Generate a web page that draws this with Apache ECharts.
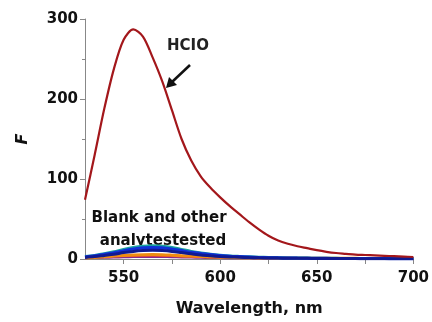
<!DOCTYPE html>
<html>
<head>
<meta charset="utf-8">
<script src="https://cdn.jsdelivr.net/npm/echarts@6/dist/echarts.min.js"></script>
<style>
  html, body { margin: 0; padding: 0; background: #fff; }
  #chart { width: 432px; height: 322px; }
</style>
</head>
<body>
<div id="chart"></div>
<script>
// wavelength grid (nm)
const wavelength = [530, 535, 540, 545, 550, 555, 560, 565, 570, 575, 580, 585, 590, 595, 600,
  605, 610, 615, 620, 625, 630, 635, 640, 645, 650, 655, 660, 665, 670, 675, 680, 685, 690, 695, 700];

// HCIO response
const hcio = [74, 130, 188, 238, 274, 287, 278, 252, 222, 186, 150, 123, 103, 89, 77,
  66, 56, 46, 37, 29, 23, 19, 16, 13.5, 11, 9, 7.5, 6.5, 5.5, 5, 4.5, 4, 3.5, 3, 2.5];

// blank and other analytes
const teal = [3, 4.5, 6.5, 9, 12, 14.5, 16, 16.5, 16, 14.5, 12, 9.5, 7.5, 6, 4.8,
  3.8, 3.2, 2.7, 2.2, 1.9, 1.6, 1.4, 1.2, 1.1, 1, 0.9, 0.8, 0.7, 0.7, 0.6, 0.6, 0.5, 0.5, 0.5, 0.5];
const blue = [2.5, 4, 6, 8, 10.5, 12.5, 14, 14.5, 14, 12.5, 10.5, 8.5, 7, 5.5, 4.5,
  3.5, 3, 2.5, 2, 1.7, 1.5, 1.3, 1.1, 1, 0.9, 0.8, 0.7, 0.6, 0.6, 0.5, 0.5, 0.5, 0.4, 0.4, 0.4];
const navy = [2, 3, 4.5, 6, 8, 9.5, 10.5, 11, 10.5, 9.5, 8, 6.5, 5, 4, 3.2,
  2.6, 2.2, 1.8, 1.5, 1.3, 1.1, 1, 0.9, 0.8, 0.7, 0.6, 0.6, 0.5, 0.5, 0.4, 0.4, 0.4, 0.3, 0.3, 0.3];
const orange = [1.5, 2, 2.8, 3.6, 4.4, 5, 5.4, 5.5, 5.3, 4.8, 4.2, 3.6, 3, 2.6, 2.2,
  1.9, 1.7, 1.5, 1.4, 1.3, 1.2, 1.1, 1, 1, 0.9, 0.9, 0.8, 0.8, 0.8, 0.7, 0.7, 0.7, 0.7, 0.6, 0.6];
const red = [3.5, 3.5, 3.6, 3.7, 3.8, 3.9, 4, 4, 3.9, 3.6, 3.2, 2.8, 2.5, 2.2, 2,
  1.8, 1.6, 1.5, 1.4, 1.3, 1.2, 1.1, 1, 1, 0.9, 0.9, 0.8, 0.8, 0.8, 0.7, 0.7, 0.7, 0.7, 0.6, 0.6];
const purple = [1, 1.2, 1.5, 1.8, 2.1, 2.4, 2.6, 2.6, 2.5, 2.3, 2, 1.8, 1.5, 1.3, 1.1,
  1, 0.9, 0.8, 0.7, 0.6, 0.6, 0.5, 0.5, 0.5, 0.4, 0.4, 0.4, 0.4, 0.3, 0.3, 0.3, 0.3, 0.3, 0.3, 0.3];

const xLabels = [550, 600, 650, 700];
const xTicks = [550, 575, 600, 625, 650, 675, 700];

function pairs(ys) {
  return wavelength.map((w, i) => [w, ys[i]]);
}

function line(name, ys, color, width) {
  return {
    name: name,
    type: 'line',
    data: pairs(ys),
    smooth: 0.3,
    showSymbol: false,
    lineStyle: { color: color, width: width },
    z: 2
  };
}

const font = '"DejaVu Sans", Arial, sans-serif';
const chart = echarts.init(document.getElementById('chart'));

const option = {
  animation: false,
  backgroundColor: '#fff',
  grid: { left: 85, right: 17, top: 19, bottom: 56, containLabel: false },
  xAxis: {
    type: 'value',
    min: 530,
    max: 700,
    name: 'Wavelength, nm',
    nameLocation: 'middle',
    nameGap: 42,
    nameTextStyle: { fontFamily: font, fontWeight: 'bold', fontSize: 16, color: '#111' },
    axisLine: { lineStyle: { color: '#888', width: 1 } },
    axisTick: { customValues: xTicks, length: 5, lineStyle: { color: '#888' } },
    axisLabel: { customValues: xLabels, fontFamily: font, fontWeight: 'bold', fontSize: 15, color: '#111', margin: 12 },
    splitLine: { show: false }
  },
  yAxis: {
    type: 'value',
    min: 0,
    max: 300,
    interval: 100,
    name: 'F',
    nameLocation: 'middle',
    nameRotate: 90,
    nameGap: 54,
    nameTextStyle: { fontFamily: font, fontWeight: 'bold', fontStyle: 'italic', fontSize: 16, color: '#111' },
    axisLine: { show: true, lineStyle: { color: '#888', width: 1 } },
    axisTick: { show: true, length: 5, lineStyle: { color: '#888' } },
    minorTick: { show: true, splitNumber: 2, length: 3, lineStyle: { color: '#888' } },
    axisLabel: { fontFamily: font, fontWeight: 'bold', fontSize: 15, color: '#111', margin: 7 },
    splitLine: { show: false }
  },
  series: [
    line('purple', purple, '#8a2a8a', 2),
    line('red', red, '#e8403a', 2),
    line('orange', orange, '#f08c10', 3),
    line('teal', teal, '#1aa3a0', 3),
    line('blue', blue, '#1030d8', 3),
    line('navy', navy, '#101a90', 3),
    line('HCIO', hcio, '#a3171b', 2.2)
  ],
  graphic: [
    {
      type: 'text', left: 167, top: 39,
      style: { text: 'HCIO', font: 'bold 15px ' + font, fill: '#222' }
    },
    {
      type: 'line',
      shape: { x1: 190, y1: 65, x2: 172, y2: 82 },
      style: { stroke: '#111', lineWidth: 2.5 }
    },
    {
      type: 'polygon',
      shape: { points: [[166, 88], [169, 77], [177, 85]] },
      style: { fill: '#111' }
    },
    {
      type: 'text', x: 159, y: 218,
      style: { text: 'Blank and other', font: 'bold 15px ' + font, fill: '#111', align: 'center', verticalAlign: 'middle' }
    },
    {
      type: 'text', x: 163, y: 241,
      style: { text: 'analytestested', font: 'bold 15px ' + font, fill: '#111', align: 'center', verticalAlign: 'middle' }
    }
  ]
};

chart.setOption(option);
</script>
</body>
</html>
